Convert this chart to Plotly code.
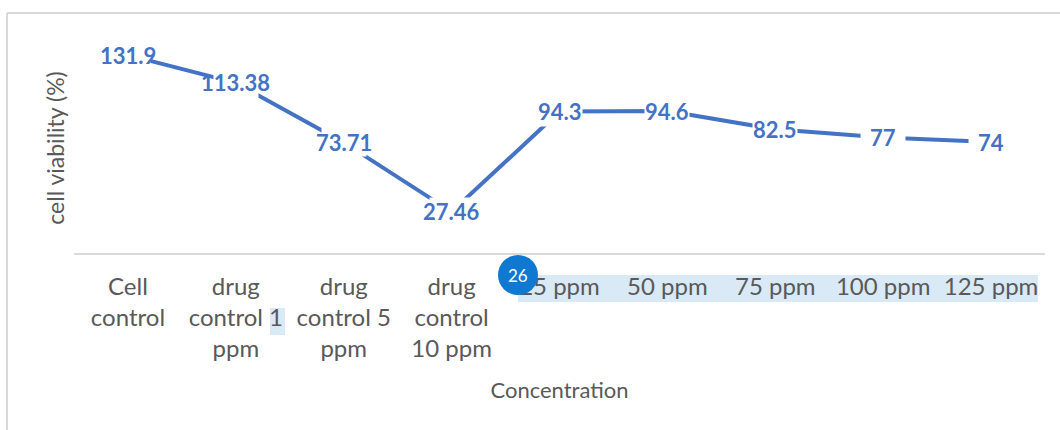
import plotly.graph_objects as go

categories = ["Cell<br>control", "drug<br>control 1<br>ppm", "drug<br>control 5<br>ppm",
              "drug<br>control<br>10 ppm", "25 ppm", "50 ppm", "75 ppm", "100 ppm", "125 ppm"]
viability = [131.9, 113.38, 73.71, 27.46, 94.3, 94.6, 82.5, 77, 74]
value_labels = ["131.9", "113.38", "73.71", "27.46", "94.3", "94.6", "82.5", "77", "74"]

W, H = 1060, 430
L, R, T, B = 74, 1045, 43, 253
FONT = "Lato, Carlito, Calibri, sans-serif"
BLUE = "#4472C4"
GREY = "#595959"


def px(x):
    return (x - L) / (R - L)


def py(y):
    return (B - y) / (B - T)


fig = go.Figure(go.Scatter(x=categories, y=viability, mode="lines",
                           line=dict(color=BLUE, width=4), hoverinfo="skip"))

annotations = []
for c, v in zip(categories, viability):
    annotations.append(dict(x=c, y=v, text=" ", showarrow=False, width=44, height=28,
                            bgcolor="white", borderpad=0, font=dict(size=10)))
for c, v, t in zip(categories, viability, value_labels):
    annotations.append(dict(x=c, y=v, text=f"<b>{t}</b>", showarrow=False,
                            font=dict(family=FONT, size=22, color=BLUE)))
annotations.append(dict(xref="paper", yref="paper", x=px(518), y=py(275), text="26", showarrow=False,
                        xanchor="center", yanchor="middle",
                        font=dict(family=FONT, size=17, color="white")))

shape_line = dict(color="#D9D9D9", width=2)
shapes = [
    dict(type="line", xref="paper", yref="paper", x0=px(7), x1=px(7), y0=py(13), y1=py(430), line=shape_line),
    dict(type="line", xref="paper", yref="paper", x0=px(7), x1=px(1060), y0=py(13), y1=py(13), line=shape_line),
    dict(type="rect", xref="paper", yref="paper", x0=px(518), x1=px(1038), y0=py(275), y1=py(302),
         fillcolor="#DAE9F6", line_width=0, layer="below"),
    dict(type="rect", xref="paper", yref="paper", x0=px(270), x1=px(285), y0=py(308), y1=py(335),
         fillcolor="#DAE9F6", line_width=0, layer="below"),
    dict(type="circle", xref="paper", yref="paper", x0=px(498), x1=px(538), y0=py(255), y1=py(295),
         fillcolor="#0F78D0", line_width=0, layer="above"),
]

fig.update_layout(
    width=W, height=H, showlegend=False, paper_bgcolor="white", plot_bgcolor="white",
    margin=dict(l=L, r=W - R, t=T, b=H - B, autoexpand=False),
    font=dict(family=FONT, color=GREY),
    annotations=annotations, shapes=shapes,
    xaxis=dict(type="category", range=[-0.5, 8.5], showgrid=False, zeroline=False,
               showline=True, linecolor="#D9D9D9", linewidth=2,
               ticks="outside", ticklen=11, tickcolor="rgba(0,0,0,0)", tickangle=0,
               tickfont=dict(family=FONT, size=24, color=GREY),
               title=dict(text="Concentration", font=dict(family=FONT, size=22, color=GREY), standoff=21)),
    yaxis=dict(range=[0, 140], showgrid=False, zeroline=False, showticklabels=False, ticks="",
               showline=False,
               title=dict(text="cell viability (%)", font=dict(family=FONT, size=23, color=GREY), standoff=1)),
)
fig.write_html("out.html", post_script="document.body.style.margin='0';",
               config={"displayModeBar": False})
